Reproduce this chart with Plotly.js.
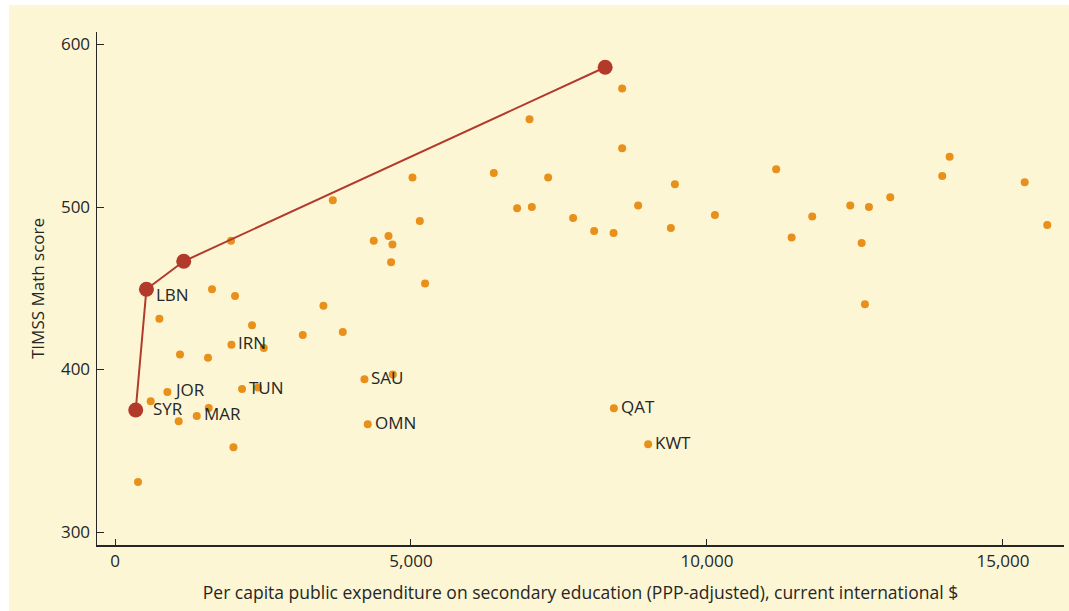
<!DOCTYPE html>
<html>
<head>
<meta charset="utf-8">
<script src="https://cdn.plot.ly/plotly-3.0.1.min.js"></script>
<style>
  html, body { margin: 0; padding: 0; background: #ffffff; width: 1069px; height: 611px; overflow: hidden; }
  #chart { position: absolute; left: 9px; top: 5px; width: 1060px; height: 606px; }
</style>
</head>
<body>
<div id="chart"></div>
<script>
// Countries: per capita public expenditure on secondary education (PPP $) and TIMSS math score
const countryCode = [
  "", "", "", "", "", "", "", "", "", "",
  "", "", "", "", "", "", "IRN", "", "", "",
  "SAU", "", "JOR", "TUN", "", "", "", "MAR", "", "OMN",
  "", "", "", "", "", "", "", "", "", "",
  "", "", "", "", "", "QAT", "KWT", "", "", "",
  "", "", "", "", "", "", "", "", "", ""
];
const expenditure = [
  1960, 3679, 5025, 5149, 4371, 4620, 4687, 4664, 1639, 2028,
  5238, 3521, 750, 2315, 3172, 3848, 1967, 2513, 1098, 1571,
  4214, 4693, 885, 2146, 2416, 603, 1583, 1381, 1076, 4270,
  2001, 389, 8567, 7002, 8567, 6399, 7317, 9458, 6793, 7041,
  8837, 7739, 8094, 8422, 9390, 8427, 9006, 11169, 10134, 11778,
  11430, 12420, 12736, 13096, 12612, 12668, 14099, 13974, 15367, 15748
];
const mathScore = [
  479.3, 504.1, 518.1, 491.4, 479.3, 482.2, 477.0, 466.0, 449.4, 445.2,
  453.0, 439.3, 431.3, 427.2, 421.2, 423.1, 415.3, 413.2, 409.2, 407.3,
  394.0, 396.9, 386.2, 388.0, 388.9, 380.4, 376.3, 371.4, 368.1, 366.3,
  352.1, 330.8, 573.0, 554.0, 536.1, 520.9, 518.1, 514.0, 499.2, 500.0,
  501.0, 493.2, 485.2, 484.0, 487.1, 376.1, 354.0, 523.2, 495.1, 494.1,
  481.2, 501.0, 500.0, 506.0, 477.8, 440.1, 531.0, 519.1, 515.2, 488.9
];

// Efficiency frontier
const frontierCode = ["SYR", "LBN", "", ""];
const frontierExpenditure = [350, 531, 1161, 8280];
const frontierScore = [375.1, 449.4, 466.6, 586.0];

const xTickVals = [0, 5000, 10000, 15000];
const xTickText = ["0", "5,000", "10,000", "15,000"];
const yTickVals = [300, 400, 500, 600];
const yTickText = ["300", "400", "500", "600"];

const FONT = "Open Sans, Noto Sans, sans-serif";
const TEXT = "#262626";

const labelShift = { SYR: [15, 1], LBN: [8, -5] };
const annotations = [];
function addLabels(codes, xs, ys) {
  codes.forEach((c, i) => {
    if (!c) return;
    const s = labelShift[c] || [5, 2];
    annotations.push({
      x: xs[i], y: ys[i], text: c, showarrow: false,
      xanchor: "left", yanchor: "middle", xshift: s[0], yshift: s[1],
      font: { family: FONT, size: 17, color: TEXT }
    });
  });
}
addLabels(countryCode, expenditure, mathScore);
addLabels(frontierCode, frontierExpenditure, frontierScore);

const traces = [
  {
    type: "scatter", mode: "markers",
    x: expenditure, y: mathScore,
    marker: { size: 8, color: "#E8901A" },
    hoverinfo: "skip"
  },
  {
    type: "scatter", mode: "lines+markers",
    x: frontierExpenditure, y: frontierScore,
    line: { color: "#B23A2A", width: 2 },
    marker: { size: 15, color: "#B23A2A" },
    hoverinfo: "skip"
  }
];

const layout = {
  width: 1060, height: 606,
  paper_bgcolor: "#FCF6D5", plot_bgcolor: "#FCF6D5",
  margin: { l: 88, r: 5, t: 27, b: 66, pad: 0 },
  showlegend: false,
  font: { family: FONT, color: TEXT },
  xaxis: {
    range: [-304, 16031], showgrid: false, zeroline: false,
    showline: true, linecolor: "#262626", linewidth: 1.5,
    ticks: "inside", ticklen: 6, tickwidth: 1, tickcolor: "#262626",
    tickvals: xTickVals, ticktext: xTickText,
    tickfont: { family: FONT, size: 17, color: TEXT },
    title: { text: "Per capita public expenditure on secondary education (PPP-adjusted), current international $",
             font: { family: FONT, size: 17.5, color: TEXT }, standoff: 16 }
  },
  yaxis: {
    range: [292, 607.7], showgrid: false, zeroline: false,
    showline: true, linecolor: "#262626", linewidth: 1.5,
    ticks: "inside", ticklen: 7, tickwidth: 1, tickcolor: "#262626",
    tickvals: yTickVals, ticktext: yTickText,
    tickfont: { family: FONT, size: 17, color: TEXT },
    ticklabelstandoff: 2,
    title: { text: "TIMSS Math score", font: { family: FONT, size: 17, color: TEXT }, standoff: 12 }
  },
  annotations: annotations
};

Plotly.newPlot("chart", traces, layout, { staticPlot: true, displayModeBar: false });
</script>
</body>
</html>
